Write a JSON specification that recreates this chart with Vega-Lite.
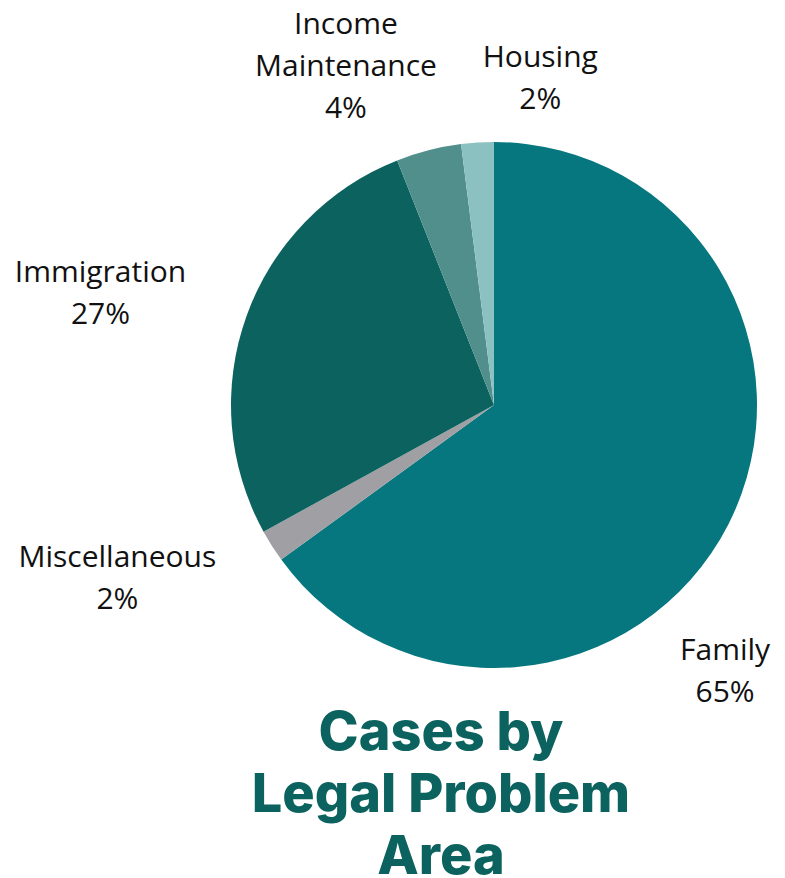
{
  "$schema": "https://vega.github.io/schema/vega-lite/v6.json",
  "width": 526,
  "height": 526,
  "autosize": {"type": "none"},
  "padding": {"left": 231, "top": 142, "right": 28, "bottom": 210},
  "background": "white",
  "config": {"view": {"stroke": null}},
  "title": {
    "text": ["Cases by", "Legal Problem", "Area"],
    "orient": "bottom",
    "anchor": "middle",
    "dx": -53,
    "offset": -1,
    "font": "Inter",
    "fontSize": 54,
    "fontWeight": 800,
    "lineHeight": 62,
    "color": "#0B625E"
  },
  "data": {
    "values": [
      {"area": "Family", "pct": 65, "ord": 1, "label": "Family\n65%"},
      {"area": "Miscellaneous", "pct": 2, "ord": 2, "label": "Miscellaneous\n2%"},
      {"area": "Immigration", "pct": 27, "ord": 3, "label": "Immigration\n27%"},
      {"area": "Income Maintenance", "pct": 4, "ord": 4, "label": "Income\nMaintenance\n4%"},
      {"area": "Housing", "pct": 2, "ord": 5, "label": "Housing\n2%"}
    ]
  },
  "encoding": {
    "theta": {"field": "pct", "type": "quantitative", "stack": true},
    "order": {"field": "ord", "type": "quantitative"}
  },
  "layer": [
    {
      "mark": {"type": "arc", "outerRadius": 263},
      "encoding": {
        "color": {
          "field": "area",
          "type": "nominal",
          "scale": {
            "domain": ["Family", "Miscellaneous", "Immigration", "Income Maintenance", "Housing"],
            "range": ["#06777F", "#A0A0A4", "#0B625E", "#518F8D", "#8BC1C1"]
          },
          "legend": null
        }
      }
    },
    {
      "mark": {"type": "text", "radius": 330, "dx": -63, "dy": 96, "lineBreak": "\n", "font": "Open Sans", "fontSize": 30, "lineHeight": 42, "color": "#111111", "align": "center", "baseline": "middle"},
      "encoding": {"text": {"condition": {"test": "datum.area === 'Family'", "field": "label"}, "value": ""}}
    },
    {
      "mark": {"type": "text", "radius": 330, "dx": -98, "dy": -24, "lineBreak": "\n", "font": "Open Sans", "fontSize": 30, "lineHeight": 42, "color": "#111111", "align": "center", "baseline": "middle"},
      "encoding": {"text": {"condition": {"test": "datum.area === 'Miscellaneous'", "field": "label"}, "value": ""}}
    },
    {
      "mark": {"type": "text", "radius": 330, "dx": -83, "dy": -20, "lineBreak": "\n", "font": "Open Sans", "fontSize": 30, "lineHeight": 42, "color": "#111111", "align": "center", "baseline": "middle"},
      "encoding": {"text": {"condition": {"test": "datum.area === 'Immigration'", "field": "label"}, "value": ""}}
    },
    {
      "mark": {"type": "text", "radius": 330, "dx": -66, "dy": -60, "lineBreak": "\n", "font": "Open Sans", "fontSize": 30, "lineHeight": 42, "color": "#111111", "align": "center", "baseline": "middle"},
      "encoding": {"text": {"condition": {"test": "datum.area === 'Income Maintenance'", "field": "label"}, "value": ""}}
    },
    {
      "mark": {"type": "text", "radius": 330, "dx": 67, "dy": -18, "lineBreak": "\n", "font": "Open Sans", "fontSize": 30, "lineHeight": 42, "color": "#111111", "align": "center", "baseline": "middle"},
      "encoding": {"text": {"condition": {"test": "datum.area === 'Housing'", "field": "label"}, "value": ""}}
    }
  ]
}
